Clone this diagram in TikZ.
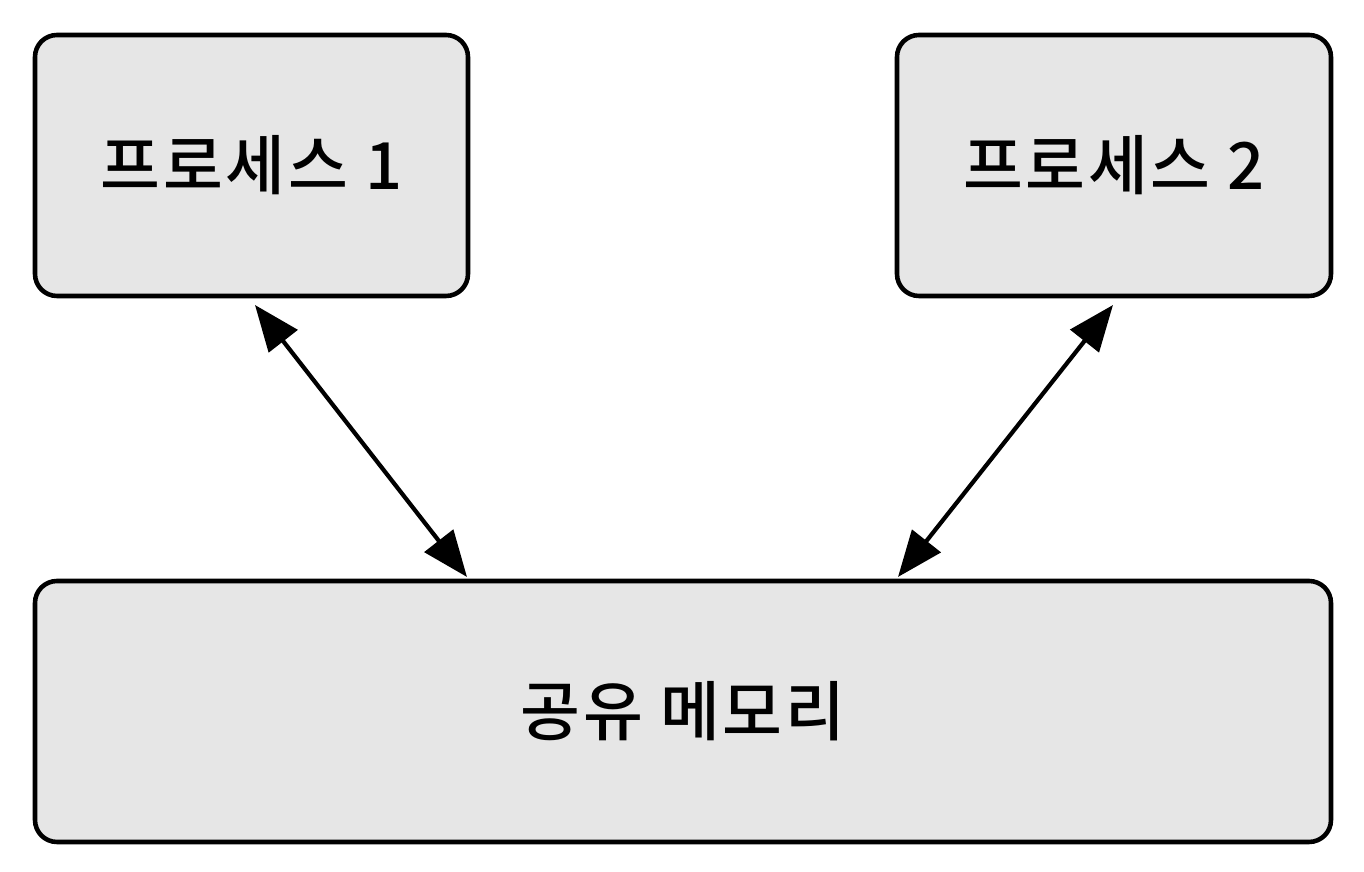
\documentclass[tikz,border=0pt]{standalone}
\usepackage{fontspec}
\newfontfamily\kr[LetterSpace=4]{Noto Sans CJK KR Medium}
\usetikzlibrary{arrows.meta}
\definecolor{boxfill}{HTML}{E6E6E6}
\tikzset{
  procbox/.style={draw=black, line width=1.3pt, fill=boxfill, rounded corners=0.22cm, inner sep=0pt, font=\kr\fontsize{18.5pt}{22pt}\selectfont},
  link/.style={line width=1.2pt, {Triangle[length=0.46cm,width=0.36cm]}-{Triangle[length=0.46cm,width=0.36cm]}}
}
\begin{document}
\begin{tikzpicture}
\useasboundingbox (0,0) rectangle (13.64,8.72);
\node[procbox, minimum width=4.33cm, minimum height=2.61cm] (p1) at (2.515,7.065) {프로세스 1};
\node[procbox, minimum width=4.34cm, minimum height=2.61cm] (p2) at (11.14,7.065) {프로세스 2};
\node[procbox, minimum width=12.96cm, minimum height=2.61cm] (mem) at (6.83,1.605) {공유 메모리};
\coordinate (a1) at (2.55,5.67);
\coordinate (b1) at (4.67,2.95);
\coordinate (a2) at (11.13,5.67);
\coordinate (b2) at (8.98,2.95);
\draw[link] (a1) -- (b1);
\draw[link] (a2) -- (b2);
\end{tikzpicture}
\end{document}
